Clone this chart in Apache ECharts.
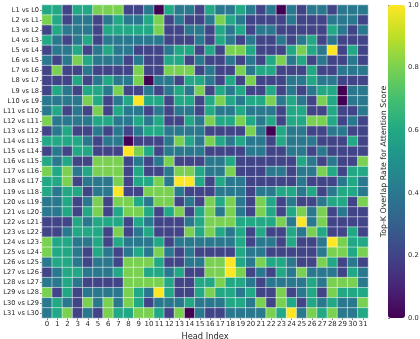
<!DOCTYPE html>
<html>
<head>
<meta charset="utf-8">
<style>
  html, body { margin: 0; padding: 0; background: #fff; }
  #main { width: 420px; height: 339px; }
</style>
<script src="https://cdn.jsdelivr.net/npm/echarts@6/dist/echarts.min.js"></script>
</head>
<body>
<div id="main"></div>
<script>
  const headIndex = ['0','1','2','3','4','5','6','7','8','9','10','11','12','13','14','15','16','17','18','19','20','21','22','23','24','25','26','27','28','29','30','31'];
  const layerPairs = ['L1 vs L0','L2 vs L1','L3 vs L2','L4 vs L3','L5 vs L4','L6 vs L5','L7 vs L6','L8 vs L7','L9 vs L8','L10 vs L9','L11 vs L10','L12 vs L11','L13 vs L12','L14 vs L13','L15 vs L14','L16 vs L15','L17 vs L16','L18 vs L17','L19 vs L18','L20 vs L19','L21 vs L20','L22 vs L21','L23 vs L22','L24 vs L23','L25 vs L24','L26 vs L25','L27 vs L26','L28 vs L27','L29 vs L28','L30 vs L29','L31 vs L30'];
  const viridis = ['#440154','#482576','#414487','#35608d','#2a788e','#21918c','#22a884','#44bf70','#7ad151','#bddf26','#fde725'];

  // one row per layer pair, one value per head
  const overlapRates = [
    [.6,.6,.2,.6,.6,.8,.8,.8,.2,.2,.4,0,.6,.4,.4,.2,.6,.4,.4,.6,.4,.2,.4,0,.4,.2,.4,.4,.2,.4,.4,.4],
    [.8,.6,.2,.4,.4,.2,.4,.6,.4,.4,.6,.8,.2,.4,.2,.2,.4,.8,.6,.4,.2,.2,.2,.2,.4,.2,.2,.2,.4,.4,.4,.2],
    [.2,.6,.4,.4,.4,.2,.6,.6,.6,.6,.6,.8,.2,.2,.4,.4,.2,.6,.4,.6,.2,.4,.4,.2,.2,.2,.2,.2,.6,.4,.2,.4],
    [.6,.4,.2,.4,.6,.2,.4,.4,.4,.4,.4,.4,.2,.2,.2,.4,.2,.6,.4,.2,.4,.2,.2,.4,.2,.4,.6,.2,.4,.2,.2,.2],
    [.2,.4,.4,.6,.2,.4,.6,.4,.4,.2,.2,.2,.4,.6,.6,.2,.6,.2,.8,.8,.6,.2,.2,.2,.6,.8,.6,.4,1,.2,.6,.2],
    [.4,.2,.4,.8,.6,.4,.4,.4,.2,.4,.2,.2,.6,.6,.2,.4,.2,.2,.4,.2,.4,.2,.6,.8,.4,.6,.2,.4,.2,.2,.4,.2],
    [.2,.8,.2,.2,.4,.2,.2,.2,.2,.8,.2,.2,.8,.8,.8,.2,.4,.2,.2,.8,.4,.6,.6,.2,.2,.2,.6,.2,.2,.4,.4,.4],
    [.2,.2,.2,.6,.2,.4,.6,.4,.4,.8,0,.4,.4,.2,.6,.6,.4,.2,.6,.2,.8,.2,.2,.2,.4,.4,.6,.4,.4,.2,.2,.2],
    [.2,.6,.4,.2,.6,.6,.4,.8,.2,.2,.4,.2,.4,.6,.4,.8,.2,.6,.4,.6,.2,.2,.6,.2,.4,.2,.4,.6,.6,0,.4,.4],
    [.4,.4,.4,.4,.8,.6,.2,.4,.6,1,.6,.6,.2,.6,.6,.2,.6,.8,.6,.4,.6,.6,.8,.4,.6,.4,.2,.8,.6,0,.4,.4],
    [.4,.6,.2,.4,.2,.8,.2,.6,.4,.4,.2,.4,.2,.4,.4,.2,.6,.4,.4,.6,.4,.4,.4,.2,.6,.6,.2,.2,.6,.2,.2,.4],
    [.8,.4,.4,.4,.4,.6,.6,.4,.4,.6,.4,.6,.2,.2,.6,.4,.8,.6,.6,.8,.6,.4,.6,.2,.6,.6,.8,.8,.6,.2,.4,.2],
    [.2,.4,.6,.2,.2,.4,.2,.4,.2,.4,.6,.6,.4,.4,.4,.4,.2,.2,.2,.2,.8,.4,0,.6,.4,.4,.2,.2,.4,.4,.2,.2],
    [.6,.6,.6,.6,.4,.2,.4,.4,0,.2,.2,.2,.4,.8,.6,.4,.8,.6,.4,.6,.4,.4,.2,.6,.4,.4,.4,.2,.2,.2,.6,.2],
    [.2,.4,.2,.6,.6,.2,.2,.2,1,.8,.6,.2,.4,.4,.4,.4,.2,.2,.2,.2,.4,.4,.2,.2,.4,.4,.2,.4,.2,.2,.2,.2],
    [.6,.4,.6,.2,.2,.8,.8,.8,.2,.4,.2,.4,.8,.2,.2,.2,.4,.4,.6,.2,.2,.2,.2,.2,.2,.6,.4,.2,.4,.2,.2,.8],
    [.8,.6,.8,.4,.6,.8,.8,.8,.2,.6,.2,.2,.4,.8,.8,.6,.4,.4,.8,.2,.2,.2,.4,.4,.2,.4,.4,.8,.6,.2,.6,.6],
    [.6,.6,.8,.2,.4,.4,.4,.8,.2,.6,.6,.8,.4,1,1,.6,.2,.6,.4,.4,.2,.2,.2,.2,.2,.4,.2,.2,.2,.4,.6,.4],
    [.6,.4,.6,.6,.2,.4,.4,1,.2,.2,.8,.8,.8,.4,.2,.2,.2,.4,.4,.4,.2,.4,.4,.6,.6,.4,.6,.2,.4,.6,.6,.4],
    [.4,.4,.6,.2,.4,.8,.2,.8,.8,.6,.4,.8,.8,.2,.4,.2,.8,.6,.8,.4,.2,.8,.6,.2,.4,.2,.2,.4,.6,.6,.2,.8],
    [.4,.4,.6,.2,.6,.8,.2,.6,.8,.8,.6,.2,.6,.8,.2,.6,.8,.4,.8,.4,.2,.8,.6,.2,.6,.8,.4,.8,.2,.4,.2,.2],
    [.2,.2,.2,.6,.4,.6,.6,.6,.2,.6,.4,.2,.2,.2,.4,.6,.8,.8,.8,.6,.6,.6,.6,.8,.4,1,.4,.8,.2,.2,.2,.2],
    [.2,.2,.4,.6,.6,.6,.2,.8,.2,.4,.6,.2,.2,.2,.8,.6,.8,.6,.4,.6,.2,.6,.2,.2,.6,.4,.8,.6,.2,.2,.6,.2],
    [.8,.6,.6,.4,.4,.6,.2,.6,.4,.4,.4,.6,.2,.4,.4,.4,.4,.4,.4,.6,.2,.4,.4,.2,.6,.2,.2,.4,1,.8,.6,.6],
    [.8,.6,.6,.4,.2,.6,.4,.2,.4,.6,.4,.8,.4,.2,.4,.2,.2,.2,.2,.6,.4,.4,.2,.2,.2,.2,.2,.4,.8,.8,.6,.8],
    [.4,.6,.6,.4,.2,.4,.4,.2,.8,.8,.8,.6,.2,.2,.4,.4,.8,.8,1,.6,.4,.8,.6,.6,.4,.2,.2,.8,.6,.2,.4,.2],
    [.2,.4,.6,.6,.4,.4,.4,.6,.8,.8,.6,.6,.4,.6,.2,.2,.8,.8,1,.8,.2,.4,.2,.6,.4,.8,.4,.4,.4,.2,.6,.4],
    [.4,.4,.6,.4,.2,.2,.2,.2,.8,.8,.8,.8,.6,.2,.2,.6,.6,.8,.6,.6,.4,.2,.4,.4,.4,.4,.6,.4,.8,.8,.8,.4],
    [.8,.2,.6,.2,.4,.4,.4,.4,.8,.6,.4,1,.6,.2,.2,.6,.8,.6,.6,.4,.6,.2,.2,.8,.2,.4,.6,.2,.8,.6,.6,.6],
    [.4,.6,.4,.2,.8,.4,.8,.4,.8,.6,.2,.4,.4,.4,.6,.4,.4,.4,.6,.6,.4,.8,.2,.8,.6,.2,.6,.4,.6,.4,.4,.8],
    [.4,.6,.8,.2,.4,.2,.8,.6,.6,.8,.8,.6,.2,.8,0,.4,.2,.2,.4,.4,.4,.4,.8,.6,1,.4,.8,.6,.8,.4,.4,.6]
  ];

  const cells = [];
  overlapRates.forEach((row, y) => {
    row.forEach((v, x) => {
      cells.push([x, y, v]);
    });
  });

  const textColor = '#262626';
  const fontFamily = '"DejaVu Sans"';

  const chart = echarts.init(document.getElementById('main'));
  chart.setOption({
    animation: false,
    backgroundColor: '#fff',
    grid: [
      { left: 42, top: 5, width: 326, height: 313, outerBoundsMode: 'none' },
      { left: 388, top: 5, width: 17, height: 313, outerBoundsMode: 'none' }
    ],
    xAxis: [
      {
        type: 'category',
        gridIndex: 0,
        data: headIndex,
        name: 'Head Index',
        nameLocation: 'middle',
        nameGap: 10,
        nameTextStyle: { color: textColor, fontFamily: fontFamily, fontSize: 8.3 },
        axisLine: { show: false },
        axisTick: { show: true, alignWithLabel: true, length: 2, lineStyle: { color: textColor, width: 0.6 } },
        axisLabel: { interval: 0, color: textColor, fontFamily: fontFamily, fontSize: 7, margin: 3, hideOverlap: false },
        splitLine: { show: false }
      },
      { type: 'value', gridIndex: 1, min: 0, max: 1, show: false }
    ],
    yAxis: [
      {
        type: 'category',
        gridIndex: 0,
        inverse: true,
        data: layerPairs,
        axisLine: { show: false },
        axisTick: { show: true, alignWithLabel: true, length: 2, lineStyle: { color: textColor, width: 0.6 } },
        axisLabel: { interval: 0, color: textColor, fontFamily: fontFamily, fontSize: 6.6, margin: 3, hideOverlap: false },
        splitLine: { show: false }
      },
      {
        type: 'value',
        gridIndex: 1,
        position: 'right',
        min: 0,
        max: 1,
        interval: 0.2,
        name: 'Top-K Overlap Rate for Attention Score',
        nameLocation: 'middle',
        nameRotate: 90,
        nameGap: -25,
        nameMoveOverlap: false,
        nameTextStyle: { color: textColor, fontFamily: fontFamily, fontSize: 7.85 },
        axisLine: { show: false },
        axisTick: { show: true, length: 2, lineStyle: { color: textColor, width: 0.6 } },
        axisLabel: { color: textColor, fontFamily: fontFamily, fontSize: 6.7, margin: 3, formatter: v => v.toFixed(1) },
        splitLine: { show: false }
      }
    ],
    visualMap: {
      type: 'continuous',
      seriesIndex: 0,
      min: 0,
      max: 1,
      left: 388,
      top: 5,
      padding: 0,
      itemWidth: 17,
      itemHeight: 313,
      calculable: false,
      showLabel: false,
      text: ['', ''],
      inRange: { color: viridis }
    },
    series: [
      {
        type: 'heatmap',
        xAxisIndex: 0,
        yAxisIndex: 0,
        data: cells,
        itemStyle: { borderColor: '#fff', borderWidth: 0.5 },
        emphasis: { disabled: true }
      }
    ]
  });
  window.addEventListener('resize', function () {
    chart.resize();
  });
</script>
</body>
</html>
